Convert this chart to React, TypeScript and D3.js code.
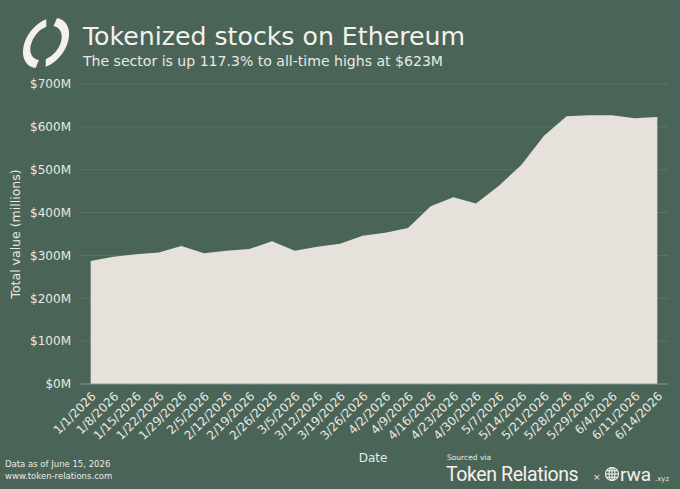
import * as d3 from "d3";

// Weekly snapshots (x axis categories)
const dates = [
	"1/1/2026", "1/8/2026", "1/15/2026", "1/22/2026", "1/29/2026", "2/5/2026",
	"2/12/2026", "2/19/2026", "2/26/2026", "3/5/2026", "3/12/2026", "3/19/2026",
	"3/26/2026", "4/2/2026", "4/9/2026", "4/16/2026", "4/23/2026", "4/30/2026",
	"5/7/2026", "5/14/2026", "5/21/2026", "5/28/2026", "5/29/2026", "6/4/2026",
	"6/11/2026", "6/14/2026",
];

// Total value in millions USD
const totalValue = [
	287, 297, 303, 307, 322, 305, 311, 315, 333, 311, 320, 327, 346, 353, 364,
	415, 436, 421, 462, 511, 579, 625, 627, 627, 620, 623,
];

const yTicks = [0, 100, 200, 300, 400, 500, 600, 700];

const W = 680;
const H = 489;
const BG = "#4a6558";
const FILL = "#e7e1db";
const TEXT = "#ece8e2";
const GRID = "#5b7468";

const plot = { left: 80, right: 668, top: 84, bottom: 384 };

// logo: two broken arcs of a tilted ellipse
function Logo() {
	const arc = d3.arc<any>().innerRadius(16).outerRadius(23.5);
	const deg = Math.PI / 180;
	const right = arc({ startAngle: -20 * deg, endAngle: 132 * deg }) || "";
	const left = arc({ startAngle: 158 * deg, endAngle: 312 * deg }) || "";
	return (
		<g transform="translate(46,43) rotate(38) scale(0.82,1.2)">
			<path d={right} fill="#f4f1ec" />
			<path d={left} fill="#f4f1ec" />
		</g>
	);
}

function Globe({ x, y, r }: { x: number; y: number; r: number }) {
	return (
		<g transform={`translate(${x},${y})`} fill="none" stroke="#f4f1ec" strokeWidth={1.1}>
			<circle r={r} />
			<ellipse rx={r * 0.45} ry={r} />
			<line x1={-r} x2={r} y1={0} y2={0} />
			<line x1={-r * 0.87} x2={r * 0.87} y1={-r * 0.5} y2={-r * 0.5} />
			<line x1={-r * 0.87} x2={r * 0.87} y1={r * 0.5} y2={r * 0.5} />
			<line x1={0} x2={0} y1={-r} y2={r} />
		</g>
	);
}

export default function App() {
	const x = d3.scalePoint<string>().domain(dates).range([90.7, 657.3]);
	const y = d3.scaleLinear().domain([0, 700]).range([plot.bottom, plot.top]);

	const area = d3
		.area<number>()
		.x((_, i) => x(dates[i]) as number)
		.y0(y(0))
		.y1((d) => y(d));

	const font = "'DejaVu Sans', sans-serif";

	return (
		<svg
			width={W}
			height={H}
			style={{ position: "absolute", left: 0, top: 0, background: BG }}
			fontFamily={font}
		>
			<rect width={W} height={H} fill={BG} />
			<Logo />
			<text x={83} y={45} fontSize={24} fill="#f4f1ec" textLength={382} lengthAdjust="spacingAndGlyphs">
				Tokenized stocks on Ethereum
			</text>
			<text x={83} y={66} fontSize={13.5} fill={TEXT} textLength={360} lengthAdjust="spacingAndGlyphs">
				The sector is up 117.3% to all-time highs at $623M
			</text>

			{/* grid + y axis */}
			{yTicks.map((t) => (
				<g key={t}>
					{t > 0 && (
						<line x1={plot.left} x2={plot.right} y1={y(t)} y2={y(t)} stroke={GRID} strokeWidth={1} />
					)}
					<text x={71} y={y(t)} dy="0.36em" textAnchor="end" fontSize={12} fill={TEXT}>
						{`$${t}M`}
					</text>
				</g>
			))}
			<text
				transform={`translate(16,${(plot.top + plot.bottom) / 2}) rotate(-90)`}
				textAnchor="middle"
				dy="0.35em"
				fontSize={12.5}
				fill={TEXT}
			>
				Total value (millions)
			</text>

			<path d={area(totalValue) || ""} fill={FILL} />
			<line x1={plot.left} x2={plot.right} y1={plot.bottom} y2={plot.bottom} stroke="#8c9b92" strokeWidth={1} />

			{/* x axis labels */}
			{dates.map((d) => (
				<text
					key={d}
					transform={`translate(${(x(d) as number) + 3},${plot.bottom + 10}) rotate(-45)`}
					textAnchor="end"
					dy="0.35em"
					fontSize={12}
					fill={TEXT}
				>
					{d}
				</text>
			))}
			<text x={373} y={462} textAnchor="middle" fontSize={12} fill={TEXT}>
				Date
			</text>

			{/* footer */}
			<text x={5} y={467} fontSize={8.5} fill={TEXT}>Data as of June 15, 2026</text>
			<text x={5} y={479} fontSize={8.5} fill={TEXT}>www.token-relations.com</text>
			<text x={447} y={460} fontSize={7.5} fill={TEXT}>Sourced via</text>
			<text x={446} y={481} fontSize={19.5} fill="#f4f1ec" letterSpacing={-0.4} fontFamily="Roboto, sans-serif">
				Token Relations
			</text>
			<text x={593} y={480} fontSize={9} fill={TEXT}>×</text>
			<Globe x={612} y={474} r={6.5} />
			<text x={620} y={481} fontSize={19} fill="#f4f1ec" fontFamily="Roboto, sans-serif">rwa</text>
			<text x={655} y={481} fontSize={7} fill={TEXT}>.xyz</text>
		</svg>
	);
}
